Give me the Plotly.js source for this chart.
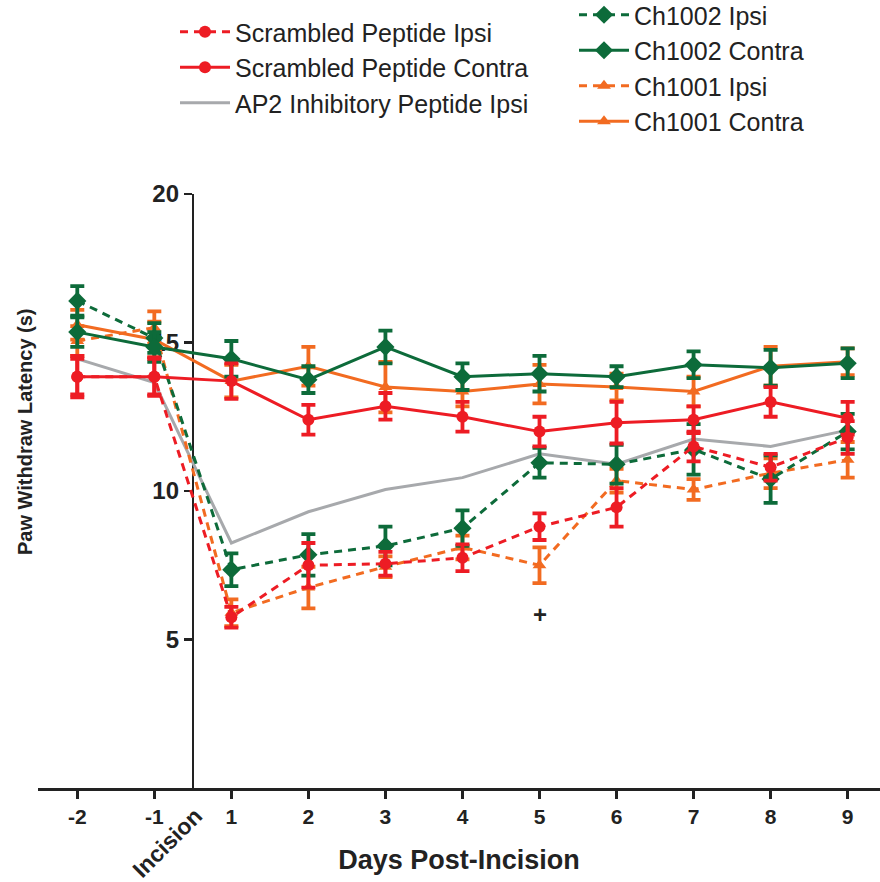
<!DOCTYPE html>
<html>
<head>
<meta charset="utf-8">
<script src="https://cdn.plot.ly/plotly-3.0.1.min.js"></script>
<style>html,body{margin:0;padding:0;background:#fff;}#chart{width:880px;height:882px;}</style>
</head>
<body>
<div id="chart"></div>
<script>
// Data
var days = ['-2', '-1', '1', '2', '3', '4', '5', '6', '7', '8', '9'];

var scrIpsi      = [13.85, 13.85, 5.75, 7.5, 7.55, 7.75, 8.8, 9.45, 11.5, 10.8, 11.8];
var scrIpsiErr   = [0.6, 0.6, 0.35, 0.75, 0.4, 0.45, 0.45, 0.65, 0.5, 0.45, 0.55];
var scrContra    = [13.85, 13.85, 13.7, 12.4, 12.85, 12.5, 12.0, 12.3, 12.4, 13.0, 12.45];
var scrContraErr = [0.7, 0.65, 0.6, 0.5, 0.45, 0.5, 0.5, 0.7, 0.45, 0.5, 0.55];
var ap2Ipsi      = [14.45, 13.65, 8.25, 9.3, 10.05, 10.45, 11.25, 10.9, 11.75, 11.5, 12.05];
var ch2Ipsi      = [16.4, 15.15, 7.35, 7.85, 8.15, 8.75, 10.95, 10.9, 11.4, 10.4, 12.0];
var ch2IpsiErr   = [0.5, 0.5, 0.55, 0.7, 0.65, 0.6, 0.5, 0.65, 0.85, 0.8, 0.6];
var ch2Contra    = [15.35, 14.85, 14.45, 13.75, 14.85, 13.85, 13.95, 13.85, 14.25, 14.15, 14.3];
var ch2ContraErr = [0.5, 0.5, 0.6, 0.45, 0.55, 0.45, 0.6, 0.35, 0.45, 0.6, 0.5];
var ch1Ipsi      = [15.05, 15.5, 5.9, 6.75, 7.45, 8.1, 7.5, 10.35, 10.05, 10.6, 11.05];
var ch1IpsiErr   = [0.5, 0.55, 0.45, 0.7, 0.35, 0.4, 0.6, 0.4, 0.35, 0.5, 0.6];
var ch1Contra    = [15.6, 15.1, 13.7, 14.2, 13.5, 13.35, 13.6, 13.5, 13.35, 14.2, 14.35];
var ch1ContraErr = [0.5, 0.6, 0.55, 0.65, 0.85, 0.5, 0.65, 0.45, 0.5, 0.65, 0.45];

var RED = '#ED1C24', GREEN = '#0D6B3A', ORANGE = '#F26B21', GRAY = '#A7A9AC';
var DASH = '8px,6px';

function tr(name, y, err, color, dash, symbol, msize, legend, rank) {
  var t = {
    type: 'scatter', mode: 'lines+markers', name: name, x: days, y: y,
    line: {color: color, width: 3, dash: dash},
    marker: {color: color, symbol: symbol, size: msize},
    legend: legend, legendgroup: name, legendrank: rank
  };
  if (err) t.error_y = {type: 'data', array: err, visible: true, color: color, thickness: 3.8, width: 7};
  return t;
}

var traces = [
  tr('AP2 Inhibitory Peptide Ipsi', ap2Ipsi, null, GRAY, 'solid', 'circle', 1, 'legend', 3),
  tr('Ch1001 Ipsi', ch1Ipsi, ch1IpsiErr, ORANGE, DASH, 'triangle-up', 12, 'legend2', 3),
  tr('Ch1001 Contra', ch1Contra, ch1ContraErr, ORANGE, 'solid', 'triangle-up', 12, 'legend2', 4),
  tr('Ch1002 Ipsi', ch2Ipsi, ch2IpsiErr, GREEN, DASH, 'diamond', 14, 'legend2', 1),
  tr('Ch1002 Contra', ch2Contra, ch2ContraErr, GREEN, 'solid', 'diamond', 14, 'legend2', 2),
  tr('Scrambled Peptide Ipsi', scrIpsi, scrIpsiErr, RED, DASH, 'circle', 12, 'legend', 1),
  tr('Scrambled Peptide Contra', scrContra, scrContraErr, RED, 'solid', 'circle', 12, 'legend', 2)
];
traces[0].mode = 'lines';

var XMIN = -0.51, XMAX = 10.42, YAXIS_AT = 1.5;
var yPos = (YAXIS_AT - XMIN) / (XMAX - XMIN);
var FONT = 'Liberation Sans, Arial, sans-serif';
var TOP = 194, BOTTOM = 788, H = 882;
var plotH = BOTTOM - TOP;
function py(p) { return (BOTTOM - p) / plotH; }

var layout = {
  width: 880, height: H,
  margin: {l: 38, r: 0, t: TOP, b: H - BOTTOM},
  paper_bgcolor: '#fff', plot_bgcolor: '#fff',
  font: {family: FONT, color: '#222'},
  showlegend: true,
  xaxis: {
    type: 'category', range: [XMIN, XMAX], domain: [0, 1],
    showline: true, linecolor: '#222', linewidth: 2.5,
    ticks: 'outside', ticklen: 8, tickwidth: 2.5, tickcolor: '#222',
    showgrid: false, zeroline: false,
    tickfont: {family: FONT, size: 21, color: '#222', weight: 'bold'},
    title: {text: 'Days Post-Incision', font: {family: FONT, size: 27, color: '#222', weight: 'bold'}, standoff: 24}
  },
  yaxis: {
    range: [0, 20], anchor: 'free', position: yPos,
    tickvals: [5, 10, 15, 20],
    showline: true, linecolor: '#222', linewidth: 2.5,
    ticks: 'outside', ticklen: 8, tickwidth: 2.5, tickcolor: '#222',
    showgrid: false, zeroline: false, layer: 'below traces',
    tickfont: {family: FONT, size: 24, color: '#222', weight: 'bold'}
  },
  legend: {
    x: (175 - 38) / 842, y: py(9), xanchor: 'left', yanchor: 'top',
    font: {family: FONT, size: 25, color: '#222'},
    tracegroupgap: 0, bgcolor: 'rgba(0,0,0,0)', itemwidth: 50
  },
  legend2: {
    x: (574 - 38) / 842, y: py(1), xanchor: 'left', yanchor: 'top',
    font: {family: FONT, size: 25, color: '#222'},
    tracegroupgap: 0, bgcolor: 'rgba(0,0,0,0)', itemwidth: 50
  },
  annotations: [
    {xref: 'paper', yref: 'paper', x: -0.0154, y: py(432), xanchor: 'center', yanchor: 'middle',
     text: 'Paw Withdraw Latency (s)', textangle: -90, showarrow: false,
     font: {family: FONT, size: 20, color: '#222', weight: 'bold'}},
    {xref: 'paper', yref: 'paper', x: (167 - 38) / 842, y: py(843), xanchor: 'center', yanchor: 'middle',
     text: 'Incision', textangle: -45, showarrow: false,
     font: {family: FONT, size: 23, color: '#222', weight: 'bold'}},
    {xref: 'x', yref: 'y', x: days.indexOf('5'), y: 5.85, text: '+', showarrow: false,
     font: {family: FONT, size: 24, color: '#222', weight: 'bold'}}
  ]
};

Plotly.newPlot('chart', traces, layout, {displayModeBar: false, staticPlot: true}).then(function () {
  // the second legend column sits slightly above the paper edge in the original
  var g = document.querySelector('#chart g.legend2');
  if (g) {
    var tf = g.getAttribute('transform') || '';
    var m = tf.match(/translate\(\s*([-\d.]+)[ ,]+([-\d.]+)\s*\)/);
    if (m) g.setAttribute('transform', 'translate(' + m[1] + ',' + (parseFloat(m[2]) - 9) + ')');
  }
});
</script>
</body>
</html>
